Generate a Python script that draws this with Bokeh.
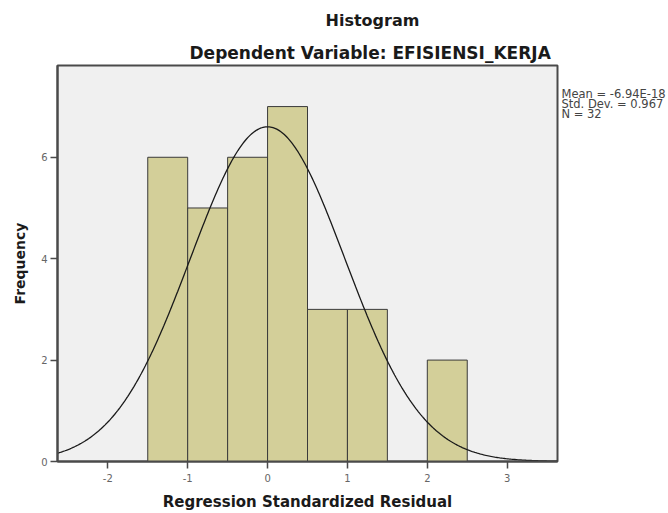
import numpy as np
from bokeh.plotting import figure
from bokeh.models import FixedTicker, Range1d, ColumnDataSource, Title, LinearAxis
from bokeh.embed import file_html
from bokeh.resources import INLINE

# ---- data ----
bin_left = [-1.5, -1.0, -0.5, 0.0, 0.5, 1.0, 1.5, 2.0]
bin_right = [-1.0, -0.5, 0.0, 0.5, 1.0, 1.5, 2.0, 2.5]
frequency = [6, 5, 6, 7, 3, 3, 0, 2]
mean_value = -6.94e-18
std_dev = 0.967
n_obs = 32
x_ticks = [-2, -1, 0, 1, 2, 3]
y_ticks = [0, 2, 4, 6]
stats_lines = ["Mean = -6.94E-18", "Std. Dev. = 0.967", "N = 32"]
title_text = "Histogram"
subtitle_text = "Dependent Variable: EFISIENSI_KERJA"
x_label = "Regression Standardized Residual"
y_label = "Frequency"

FONT = "DejaVu Sans"

x_lo, x_hi = -2.63, 3.63
y_lo, y_hi = 0, 7.81
p = figure(width=668, height=513, output_backend="svg", toolbar_location=None,
           x_range=Range1d(x_lo, x_hi), y_range=Range1d(y_lo, y_hi),
           min_border_left=57, min_border_right=110, min_border_top=65, min_border_bottom=50,
           background_fill_color="#F0F0F0", border_fill_color="white")

p.xgrid.visible = False
p.ygrid.visible = False
p.outline_line_color = "#4a4a4a"
p.outline_line_width = 2

src = ColumnDataSource(dict(left=bin_left, right=bin_right, top=frequency,
                            bottom=[0] * len(frequency)))
p.quad(left="left", right="right", top="top", bottom="bottom", source=src,
       fill_color="#D3CF99", line_color="#3a3a3a", line_width=1)

# fitted normal curve from the stated mean / std. dev.
bw = bin_right[0] - bin_left[0]
xs = np.linspace(x_lo, x_hi, 400)
ys = n_obs * bw / (std_dev * np.sqrt(2 * np.pi)) * np.exp(-0.5 * ((xs - mean_value) / std_dev) ** 2)
p.line(xs, ys, line_color="#1a1a1a", line_width=1.3)

for ax in (p.xaxis[0], p.yaxis[0]):
    ax.axis_line_color = "#4a4a4a"
    ax.axis_line_width = 2
    ax.major_tick_line_color = "#4a4a4a"
    ax.major_tick_line_width = 1.5
    ax.major_tick_out = 7
    ax.major_tick_in = 0
    ax.minor_tick_line_color = None
    ax.major_label_text_font = FONT
    ax.major_label_text_font_size = "10px"
    ax.major_label_text_color = "#666666"
    ax.axis_label_text_font = FONT
    ax.axis_label_text_font_style = "bold"
    ax.axis_label_text_color = "#1a1a1a"

p.xaxis.ticker = FixedTicker(ticks=x_ticks)
p.yaxis.ticker = FixedTicker(ticks=y_ticks)
p.xaxis.major_label_overrides = {t: str(t) for t in x_ticks}
p.xaxis.axis_label = x_label
p.yaxis.axis_label = y_label
p.xaxis.axis_label_text_font_size = "15px"
p.yaxis.axis_label_text_font_size = "14px"
p.xaxis.major_label_standoff = 5
p.xaxis.axis_label_standoff = 8
p.yaxis.major_label_standoff = 3
p.yaxis.axis_label_standoff = 10

# titles stacked above the frame (first added = nearest the frame)
p.add_layout(Title(text=subtitle_text, align="left", offset=132, standoff=6,
                   vertical_align="bottom", text_font=FONT, text_font_style="bold",
                   text_font_size="17px", text_color="#1a1a1a"), "above")
p.add_layout(Title(text=" ", align="left", standoff=3, text_font_size="1px"), "above")
p.add_layout(Title(text=title_text, align="left", offset=268, standoff=0,
                   vertical_align="top", text_font=FONT, text_font_style="bold",
                   text_font_size="16px", text_color="#1a1a1a"), "above")

# statistics text on the right side, as labels of an axis without line or ticks
stats_y = [7.24, 7.05, 6.85]   # vertical placement of the three text lines
stats_axis = LinearAxis(ticker=FixedTicker(ticks=stats_y),
                        major_label_overrides={y: s for y, s in zip(stats_y, stats_lines)},
                        axis_line_color=None, major_tick_line_color=None,
                        minor_tick_line_color=None, major_tick_out=0, major_tick_in=0,
                        major_label_standoff=4, major_label_text_font=FONT,
                        major_label_text_font_size="11.5px",
                        major_label_text_color="#444444")
p.add_layout(stats_axis, "right")

open("out.html", "w").write(file_html(p, INLINE))
